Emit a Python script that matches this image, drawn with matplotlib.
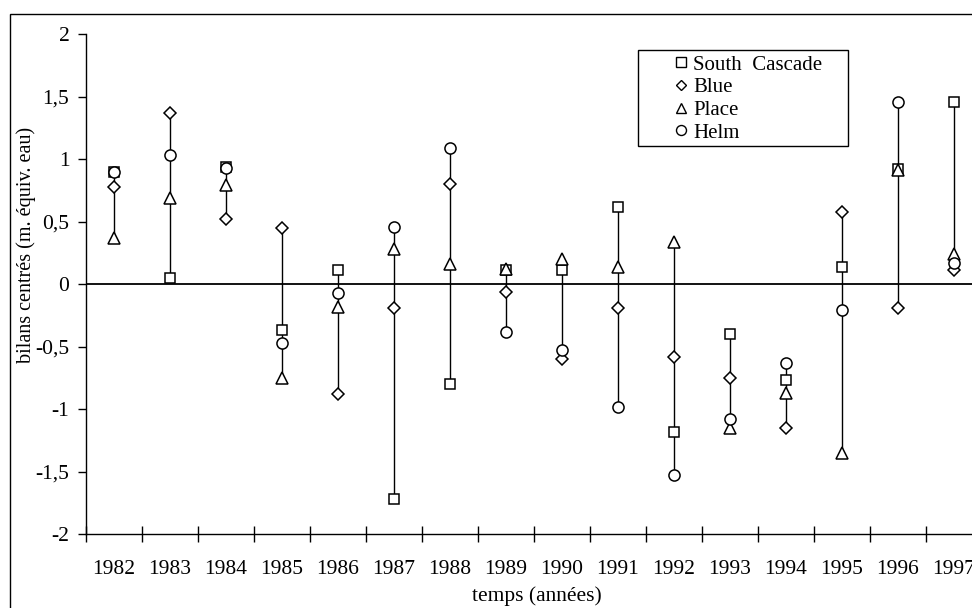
import matplotlib.pyplot as plt
from matplotlib.patches import Rectangle
from matplotlib.lines import Line2D

# values (m. water equivalent, centred balances)
years = ["1982", "1983", "1984", "1985", "1986", "1987", "1988", "1989",
         "1990", "1991", "1992", "1993", "1994", "1995", "1996", "1997"]
south_cascade = [0.90, 0.05, 0.94, -0.37, 0.11, -1.72, -0.80, 0.11,
                 0.11, 0.62, -1.18, -0.40, -0.77, 0.14, 0.92, 1.46]
blue = [0.78, 1.37, 0.52, 0.45, -0.88, -0.19, 0.80, -0.06,
        -0.60, -0.19, -0.58, -0.75, -1.15, 0.58, -0.19, 0.11]
place = [0.37, 0.69, 0.79, -0.75, -0.18, 0.28, 0.16, 0.12,
         0.20, 0.14, 0.34, -1.15, -0.87, -1.35, 0.91, 0.24]
helm = [0.90, 1.03, 0.93, -0.47, -0.07, 0.46, 1.09, -0.38,
        -0.53, -0.98, -1.53, -1.08, -0.63, -0.21, 1.46, 0.17]

yticks = [-2, -1.5, -1, -0.5, 0, 0.5, 1, 1.5, 2]
ytick_labels = ["-2", "-1,5", "-1", "-0,5", "0", "0,5", "1", "1,5", "2"]

plt.rcParams["font.family"] = ["Liberation Serif", "DejaVu Serif"]

fig = plt.figure(figsize=(9.72, 6.08), dpi=100)
W, H = 972.0, 608.0
ax = fig.add_axes([86 / W, 1 - 534 / H, (982 - 86) / W, 500 / H])

x = list(range(len(years)))
series = [
    (south_cascade, "s", 7.5, "South  Cascade"),
    (blue, "D", 6.0, "Blue"),
    (place, "^", 8.5, "Place"),
    (helm, "o", 8.0, "Helm"),
]

# high-low lines joining the four glaciers of each year
lows = [min(v) for v in zip(south_cascade, blue, place, helm)]
highs = [max(v) for v in zip(south_cascade, blue, place, helm)]
ax.vlines(x, lows, highs, color="black", lw=1.0, zorder=2)

ax.axhline(0, color="black", lw=1.3, zorder=1)

for vals, m, ms, name in series:
    ax.plot(x, vals, ls="none", marker=m, ms=ms, mfc="white", mec="black",
            mew=1.1, zorder=3, clip_on=False)

ax.set_xlim(-0.5, len(years) - 0.5)
ax.set_ylim(-2, 2)

for s in ["top", "right"]:
    ax.spines[s].set_visible(False)
for s in ["left", "bottom"]:
    ax.spines[s].set_linewidth(1.0)

ax.set_yticks(yticks)
ax.set_yticklabels(ytick_labels, fontsize=15.5)
ax.tick_params(axis="y", direction="out", length=6, width=1, pad=6)

ax.set_xticks([i - 0.5 for i in range(len(years) + 1)])
ax.set_xticklabels([])
ax.tick_params(axis="x", which="major", direction="inout", length=11, width=1)
ax.set_xticks(x, minor=True)
ax.set_xticklabels(years, minor=True, fontsize=15.5)
ax.tick_params(axis="x", which="minor", length=0, pad=19)

fig.text(537 / W, 1 - 596 / H, "temps (années)", ha="center", va="center",
         fontsize=15.5)
fig.text(26 / W, 1 - 245 / H, "bilans centrés (m. équiv. eau)", ha="center",
         va="center", rotation=90, fontsize=14.5)

# legend frame and entries
fig.patches.append(Rectangle((638 / W, 1 - 146 / H), 210 / W, 96 / H,
                             transform=fig.transFigure, fill=False,
                             edgecolor="black", lw=1.0))
handles = [Line2D([], [], ls="none", marker=m, ms=ms * 0.9, mfc="white",
                  mec="black", mew=1.0) for _, m, ms, _ in series]
labels = [name for *_, name in series]
fig.legend(handles, labels, loc="upper left",
           bbox_to_anchor=(675 / W, 1 - 55 / H), frameon=False, fontsize=15,
           handlelength=0.6, handletextpad=0.27, labelspacing=0.15,
           borderpad=0, borderaxespad=0)

# outer chart border
fig.patches.append(Rectangle((10 / W, -0.05), 1.0, 1 - 14 / H + 0.05,
                             transform=fig.transFigure, fill=False,
                             edgecolor="black", lw=1.0))

fig.savefig("out.png", dpi=100)
